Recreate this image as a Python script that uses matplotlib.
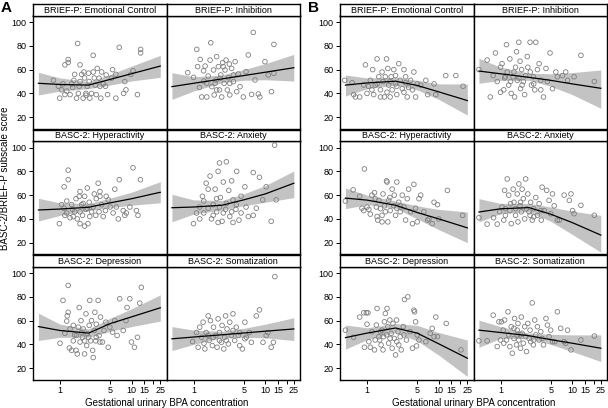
import matplotlib
matplotlib.use("Agg")
import matplotlib.pyplot as plt

plt.rcParams['font.family'] = ['Liberation Sans Narrow', 'Liberation Sans', 'DejaVu Sans']

# -------------------------------
# Data
# -------------------------------
titles = ['BRIEF-P: Emotional Control', 'BRIEF-P: Inhibition',
          'BASC-2: Hyperactivity', 'BASC-2: Anxiety',
          'BASC-2: Depression', 'BASC-2: Somatization']
xtick_vals = [1, 5, 10, 15, 20, 25]
xtick_labels = ['1', '5', '10', '15', '', '25']
ytick_vals = [20, 40, 60, 80, 100]

# fitted curve knots (BPA concentration)
curve_x = [0.5, 1, 2.5, 5, 10, 25]

# ---- panel A ----
a_ec_fit = [48.5, 47.5, 47, 51.8, 56.6, 63]
a_ec_lo = [38.7, 42, 44, 47, 50.5, 53.5]
a_ec_hi = [57.7, 53, 50, 56, 63, 72]
a_ec_x = [1.76, 2.9, 6.7, 13.3, 13.3, 12, 10.4, 9.7, 8, 8.3, 7.7, 6, 5.4, 6, 5.2, 4.4, 4.3, 3.7, 3.5, 3.6,
          3.3, 2.9, 3.1, 2.75, 2.6, 2.4, 2.2, 2.15, 1.9, 1.85, 1.8, 1.7, 1.56, 1.5, 1.38, 1.3, 1.3, 1.17, 1.1, 1.05,
          0.99, 0.95, 0.81, 1.17, 2.1, 2.3, 2.0, 2.55, 3.2, 4, 4.6, 1.9, 1.6, 1.45, 1.24, 2.3, 3, 3.8, 2.5]
a_ec_y = [82, 72, 78.7, 77, 74, 39, 59, 56, 50, 43, 40, 36, 60, 56, 52.8, 55.5, 46, 36, 52.8, 46,
          61, 58, 47, 40, 36, 46, 53, 58, 64, 46, 40, 36, 51, 45, 39, 66, 68.5, 64, 48, 43,
          36, 46, 51, 39, 36, 38.5, 56, 50, 39, 48, 39, 50, 56, 48, 42, 40, 53, 58, 57]

a_inh_fit = [45.7, 48.5, 52.2, 55, 57.8, 61.6]
a_inh_lo = [35, 42, 49, 51, 51.5, 50.4]
a_inh_hi = [57.4, 54, 55.5, 60, 65, 72.8]
a_inh_x = [0.83, 1, 1.11, 1.14, 1.21, 1.24, 1.3, 1.38, 1.4, 1.45, 1.53, 1.6, 1.7, 1.74, 1.8, 1.9, 1.94, 2.06, 2.1, 2.22,
           2.3, 2.4, 2.47, 2.55, 2.67, 2.75, 2.84, 2.96, 3.06, 3.16, 3.2, 3.4, 3.6, 3.8, 4, 4.2, 4.45, 4.95, 5.4, 5.8,
           6.45, 6.8, 7.2, 8, 8.4, 9.9, 11, 13.2, 13.2, 12.2, 2.0, 2.35, 3.2, 1.53, 3.6, 2.1, 2.6]
a_inh_y = [57.4, 53.5, 77, 62.5, 45, 68.6, 37, 59, 50.4, 63, 37, 54.6, 68, 82.6, 45.7, 59.7, 38.7, 51.3, 70.9, 62.5,
           42.9, 55.5, 37, 65.8, 48.5, 59.7, 68, 42.9, 53.2, 64.7, 38.7, 61, 49.9, 66.7, 41.5, 56.3, 45.7, 37, 58.3, 72.3,
           39.2, 91.3, 51.3, 39.5, 37, 66.7, 55.5, 81.2, 56.9, 41.5, 48.5, 52.7, 48.5, 48.5, 55.5, 42.9, 62.5]

a_hyp_fit = [47.5, 48.3, 49.8, 53.5, 57, 62.4]
a_hyp_lo = [38.2, 43, 47, 49.5, 51.5, 53.6]
a_hyp_hi = [57.3, 53.5, 53, 57.5, 62.5, 71.3]
a_hyp_x = [0.98, 1.3, 1.14, 1.3, 1.14, 1.24, 1.38, 1.45, 1.6, 1.74, 1.85, 1.9, 2, 2.06, 2.2, 2.3, 2.4, 2.55, 2.6, 2.9,
           3, 3.2, 3.4, 3.5, 3.6, 3.8, 4, 4.3, 4.7, 5.5, 5.8, 6.1, 6.5, 6.7, 7.6, 8.4, 9.4, 10.4, 11.6, 12.2,
           13.2, 8, 5, 2.2, 1.67, 1.5, 1.24, 1.05, 1.17, 1.53, 1.9, 2.1, 2.4, 2.75, 2.45, 3.15, 1.9, 3.6, 4.4]
a_hyp_y = [36, 81, 67, 73, 49, 45, 41, 52, 46, 40, 59, 63, 52, 43, 34, 48, 66, 54, 42, 50,
           61, 57, 70, 46, 63, 52, 42, 47, 56, 45, 65, 50, 40, 73, 47, 45, 50, 83, 47, 43,
           73, 43, 50, 59, 57, 48, 55, 52, 43, 42, 46, 53, 49, 46, 36, 43, 36, 59, 59]

a_anx_fit = [49.4, 50, 51.5, 56, 61, 70]
a_anx_lo = [37.6, 44, 47.5, 51, 54, 57.9]
a_anx_hi = [60.7, 56, 55.5, 61, 68, 80.3]
a_anx_x = [1, 1.22, 1.33, 1.39, 1.5, 1.6, 1.7, 1.78, 1.88, 2.0, 2.1, 2.2, 2.3, 2.37, 2.5, 2.6, 2.8, 2.87, 3.1, 3.2,
           3.4, 3.55, 3.9, 4.0, 4.3, 4.6, 5.2, 5.8, 6.8, 7.5, 8.3, 9.2, 10.3, 12.1, 13.5, 14.2, 1.39, 1.6, 1.88, 2.1,
           2.3, 2.6, 2.87, 3.4, 3.95, 4.6, 5.4, 6.8, 3.55, 2.2, 1.22, 1.1]
a_anx_y = [36, 50, 59, 45, 70, 65, 76, 40, 52, 65, 46, 80, 87, 58, 38, 71, 48, 88, 64, 42,
           72, 56, 48, 80, 39, 59, 67, 42, 79, 49, 75, 56, 67, 38, 102, 56, 55, 49, 43, 57,
           50, 45, 53, 46, 52, 45, 50, 43, 37, 37, 40, 45]

a_dep_fit = [55, 51.7, 49.5, 57.5, 63.2, 70.8]
a_dep_lo = [43.3, 46, 46, 51, 55, 59.6]
a_dep_hi = [66.3, 57, 53, 62, 70, 81.7]
a_dep_x = [1, 1.1, 1.17, 1.24, 1.26, 1.3, 1.35, 1.38, 1.3, 1.45, 1.53, 1.6, 1.67, 1.74, 1.8, 1.85, 1.9, 1.96, 2.06, 2.1,
           2.2, 2.3, 2.35, 2.4, 2.55, 2.6, 2.67, 2.75, 2.85, 2.9, 3, 3.06, 3.15, 3.2, 3.4, 3.5, 3.66, 3.9, 4.1, 4.35,
           4.7, 4.95, 5.4, 5.8, 6.25, 6.8, 7.6, 8.3, 8.6, 9.4, 9.9, 10.9, 12, 12.9, 13.6, 1.53, 2, 2.5, 1.7, 3.6,
           2.2, 3.2]
a_dep_y = [41, 77, 49.4, 59.6, 64, 67, 37, 53, 89.6, 35, 43, 48, 35, 32, 54.5, 71, 42, 60, 46, 53,
           32, 65.7, 39, 49, 56, 77, 43, 60, 35, 29, 51.7, 67, 43, 57, 77, 47.5, 63, 42, 51.7, 58.7,
           37.6, 54.5, 50.3, 60, 47.5, 78.4, 51.7, 60, 71, 78.4, 42, 37.6, 46, 74.7, 88, 56, 50, 46, 47.5, 42,
           43, 46]

a_som_fit = [44.7, 46.2, 48.1, 49.6, 51.1, 53]
a_som_lo = [34.8, 40, 45.5, 46, 45.5, 43.3]
a_som_hi = [55, 52, 51, 53.5, 57, 62.4]
a_som_x = [0.97, 1.1, 1.16, 1.22, 1.29, 1.36, 1.44, 1.5, 1.6, 1.65, 1.72, 1.83, 1.9, 2.04, 2.13, 2.2, 2.3, 2.45, 2.5, 2.64,
           2.72, 2.8, 2.93, 3.06, 3.2, 3.37, 3.55, 3.75, 3.95, 4.2, 4.4, 4.8, 5.2, 5.45, 6, 6.4, 7.5, 8.3, 9.3, 10.3,
           10.9, 12.1, 13, 13.6, 1.88, 2.3, 3.55, 1.6, 1.4, 5.2, 2.87, 4.4]
a_som_y = [42.4, 50, 37.6, 54.5, 46, 58.7, 36.2, 50, 64, 43.3, 60, 39, 54.5, 47.5, 37.6, 61.5, 50, 41.8, 56, 36.2,
           46, 64, 53, 40.4, 58.7, 47.5, 65.7, 43.3, 54.5, 47.5, 39, 36.2, 58.7, 46, 50, 41.8, 64, 69, 41.8, 47.5,
           50, 37.6, 41.8, 97, 46, 43.3, 51.7, 47.5, 41, 44.7, 43.3, 50]

# ---- panel B ----
b_ec_fit = [47, 48.8, 50.3, 46.7, 41.3, 34]
b_ec_lo = [37.8, 44, 47, 43, 35, 21.8]
b_ec_hi = [55.5, 53, 53.5, 51, 48, 47.9]
b_ec_x = [0.49, 0.62, 0.65, 0.69, 0.79, 0.95, 0.9, 1, 1.11, 1.17, 1.24, 1.3, 1.38, 1.46, 1.54, 1.62, 1.67, 1.75, 1.87, 1.95,
          2, 2.1, 2.17, 2.24, 2.36, 2.5, 2.6, 2.77, 2.9, 3.1, 3.27, 3.45, 3.64, 3.8, 4.05, 4.5, 4.75, 5.0, 6.6, 7,
          8.6, 9.1, 12.5, 17.3, 21.8, 1.54, 1.38, 1.8, 2.1, 2.6, 1.9, 3.27, 4.3, 5.6, 2.5, 3.45, 1.05, 1.2]
b_ec_y = [51, 49, 39, 37, 37, 64, 47, 40, 51, 43, 39, 47, 69, 54, 43, 58, 50, 37, 69, 61,
          47, 37, 54, 43, 60, 48, 39, 65, 51, 44, 60, 54, 37, 45, 51, 58, 37, 48, 51, 39,
          48, 39, 55, 55, 46, 37, 48, 54, 50, 46, 41, 41, 43, 47, 55, 49, 46, 60]

b_inh_fit = [58.8, 56.5, 53.5, 51, 48, 44.3]
b_inh_lo = [48.5, 51, 51, 46, 39, 27.5]
b_inh_hi = [69.5, 62, 57, 56.5, 57.5, 59.7]
b_inh_x = [0.5, 0.65, 0.72, 0.79, 0.85, 0.9, 1, 1, 1.05, 1.11, 1.14, 1.21, 1.24, 1.3, 1.35, 1.41, 1.5, 1.57, 1.62, 1.67,
           1.71, 1.8, 1.87, 1.9, 1.97, 2.08, 2.17, 2.24, 2.36, 2.4, 2.58, 2.7, 2.87, 3, 3.1, 3.27, 3.45, 3.64, 3.97, 4.3,
           4.5, 4.9, 5.3, 5.9, 6.2, 7.3, 8.1, 8.6, 10.6, 13.2, 20.3, 1.54, 1.8, 2, 2.6, 1.38, 1.17, 2.9, 3.64]
b_inh_y = [60, 68, 37, 55, 74, 50, 41, 62, 65, 43, 53, 81, 58, 47, 69, 40, 54, 37, 62, 75,
           51, 83, 67, 44, 60, 50, 39, 55, 71, 62, 83, 47, 54, 43, 83, 60, 65, 51, 37, 61,
           50, 74, 44, 58, 54, 55, 58, 51, 54, 72, 50, 58, 53, 47, 58, 50, 54, 48, 43]

b_hyp_fit = [57.5, 55.8, 51.5, 45.4, 40, 32.5]
b_hyp_lo = [48.6, 52, 49, 40, 31, 20]
b_hyp_hi = [66, 60, 55, 51, 48, 45.8]
b_hyp_x = [0.5, 0.64, 0.79, 0.85, 0.9, 0.92, 1, 1.06, 1.11, 1.17, 1.27, 1.35, 1.38, 1.46, 1.54, 1.62, 1.67, 1.75, 1.87, 1.9,
           1.95, 2, 2.1, 2.24, 2.36, 2.4, 2.5, 2.6, 2.77, 2.9, 3.1, 3.27, 3.45, 3.64, 3.8, 4.05, 4.3, 4.5, 4.75, 5,
           5.3, 5.6, 6.2, 7, 7.3, 8.1, 8.6, 9.6, 10, 13.2, 21.5, 1.3, 1.8, 2.08, 2.6, 1.62, 1.41, 2.9]
b_hyp_y = [55, 64.4, 59, 49, 47, 82, 50, 48, 44, 60, 62, 50, 42, 55.6, 48.6, 37.5, 61, 51, 72, 71,
           37.5, 55.6, 47, 65, 51, 60, 43, 71, 54, 46, 60, 50, 39, 57, 65, 46, 36, 69, 49, 37.5,
           57, 60, 46, 39, 40, 36, 54, 52, 40, 64, 43, 57, 46, 58, 49, 43, 39, 51]

b_anx_fit = [45.8, 48.5, 49.5, 44, 36.9, 26.4]
b_anx_lo = [37.5, 44.5, 46, 38, 27, 12]
b_anx_hi = [57, 53, 53, 50, 46.5, 43]
b_anx_x = [0.5, 0.65, 0.8, 0.9, 0.97, 1.05, 1.11, 1.14, 1.17, 1.24, 1.3, 1.35, 1.41, 1.5, 1.54, 1.62, 1.71, 1.75, 1.8, 1.87,
           1.95, 2, 2.08, 2.17, 2.24, 2.3, 2.4, 2.58, 2.63, 2.77, 2.9, 3.1, 3.27, 3.45, 3.7, 3.8, 4.05, 4.4, 4.75, 5,
           5.3, 5.6, 6.2, 6.6, 7.7, 9.1, 9.6, 10.1, 10.6, 13.2, 20.3, 1.62, 1.9, 2.5, 2.9, 3.64, 1.38, 1.17]
b_anx_y = [41, 35.6, 41, 35.6, 46, 50, 39, 64, 43, 73.6, 60, 47, 36, 65, 54, 43, 61, 37.5, 69.4, 51,
           46, 65, 57, 40, 73.6, 48.6, 61, 43, 54, 39, 48.6, 58, 43, 52.8, 39, 66.7, 47, 64, 55.6, 44.4,
           61, 51, 39, 39, 60, 55.6, 61, 47, 44.4, 51.4, 43, 48.6, 54, 46, 41.7, 47, 52.8, 48.6]

b_dep_fit = [45.7, 49.5, 53.8, 49.5, 40.5, 28.4]
b_dep_lo = [36, 44, 50, 43, 31, 13]
b_dep_hi = [56.3, 54, 57.5, 56, 50, 43.7]
b_dep_x = [0.5, 0.65, 0.79, 0.9, 0.92, 0.98, 1, 1.03, 1.06, 1.11, 1.17, 1.27, 1.35, 1.38, 1.46, 1.5, 1.57, 1.62, 1.67, 1.75,
           1.8, 1.87, 1.9, 1.95, 2, 2.08, 2.17, 2.24, 2.3, 2.4, 2.5, 2.58, 2.7, 2.77, 2.9, 3, 3.2, 3.33, 3.55, 3.7,
           3.97, 4.3, 4.5, 4.6, 4.75, 4.9, 5, 5.3, 6.6, 7.6, 8.1, 8.6, 9.1, 9.6, 12.7, 20.4, 1.54, 2.1, 2.6, 1.7,
           3.27, 1.3]
b_dep_y = [52, 46, 63, 66.6, 37.6, 66.6, 57, 66.6, 42.3, 37.6, 50.7, 35.4, 56.3, 70.2, 46.5, 43.7, 39.6, 52, 35.4, 59,
           66, 48, 70.2, 54.9, 41, 60.5, 49.3, 36.8, 57.6, 45, 31.2, 60.5, 50.7, 39.6, 46.5, 35.4, 54.9, 77.7, 43.7, 80,
           50.7, 36.8, 68.8, 67.4, 59, 38.7, 48, 43.7, 42.3, 49.3, 53.5, 46.5, 63, 46.5, 57.6, 35.4, 50.7, 45, 42.3, 46.5,
           48, 43.7]

b_som_fit = [52, 50, 47.3, 44, 41, 36.8]
b_som_lo = [37.6, 45, 45, 40, 34, 25.6]
b_som_hi = [60.4, 55, 49.5, 48.5, 48, 48]
b_som_x = [0.5, 0.65, 0.79, 0.9, 0.95, 1, 1.03, 1.09, 1.11, 1.14, 1.21, 1.27, 1.3, 1.35, 1.41, 1.46, 1.54, 1.57, 1.67, 1.71,
           1.75, 1.8, 1.9, 1.95, 2, 2.08, 2.17, 2.24, 2.3, 2.4, 2.58, 2.63, 2.77, 2.87, 3, 3.1, 3.27, 3.45, 3.64, 3.97,
           4.3, 4.5, 4.75, 5, 5.3, 5.7, 6.2, 6.9, 7.7, 8.1, 8.6, 9.6, 13.2, 20.3, 1.71, 2.9, 3.8, 1.54, 2.5, 1.9]
b_som_y = [43, 43, 64.6, 38.2, 59, 43.7, 59, 52, 41, 60.5, 43.7, 67.4, 48, 38.2, 54.9, 32.6, 45, 61.8, 39.6, 52,
           57.6, 43.7, 36.8, 63, 49.3, 41, 54.9, 46.5, 34, 57.6, 52, 42.3, 74.9, 39.6, 60.5, 48, 54.9, 43.7, 50.7, 39.6,
           61.8, 56.3, 46.5, 52, 42.3, 42.3, 67.4, 53.5, 42.3, 41, 52, 35.4, 43.7, 47, 48, 43.7, 45, 53.5, 45, 48]

panel_a = [(a_ec_x, a_ec_y, a_ec_fit, a_ec_lo, a_ec_hi),
           (a_inh_x, a_inh_y, a_inh_fit, a_inh_lo, a_inh_hi),
           (a_hyp_x, a_hyp_y, a_hyp_fit, a_hyp_lo, a_hyp_hi),
           (a_anx_x, a_anx_y, a_anx_fit, a_anx_lo, a_anx_hi),
           (a_dep_x, a_dep_y, a_dep_fit, a_dep_lo, a_dep_hi),
           (a_som_x, a_som_y, a_som_fit, a_som_lo, a_som_hi)]
panel_b = [(b_ec_x, b_ec_y, b_ec_fit, b_ec_lo, b_ec_hi),
           (b_inh_x, b_inh_y, b_inh_fit, b_inh_lo, b_inh_hi),
           (b_hyp_x, b_hyp_y, b_hyp_fit, b_hyp_lo, b_hyp_hi),
           (b_anx_x, b_anx_y, b_anx_fit, b_anx_lo, b_anx_hi),
           (b_dep_x, b_dep_y, b_dep_fit, b_dep_lo, b_dep_hi),
           (b_som_x, b_som_y, b_som_fit, b_som_lo, b_som_hi)]

# -------------------------------
# Layout (pixels)
# -------------------------------
W, H = 608, 408
fig = plt.figure(figsize=(W / 100, H / 100), dpi=100)

def rect(left, top, w, h):
    return [left / W, 1 - (top + h) / H, w / W, h / H]

col_w = 133.5
plot_h = 113
strip_h = 11.5
row_tops = [15.5, 141, 266.5]
panel_lefts = {'A': 33, 'B': 340}
tick_fs = 6.5

for key, data in (('A', panel_a), ('B', panel_b)):
    left0 = panel_lefts[key]
    for i, (sx, sy, fit, lo, hi) in enumerate(data):
        r, c = divmod(i, 2)
        left = left0 + c * col_w
        top = row_tops[r]

        ax = fig.add_axes(rect(left, top, col_w, plot_h))
        ax.fill_between(curve_x, lo, hi, color='#c3c3c3', lw=0, zorder=1)
        ax.scatter(sx, sy, s=11, facecolors='none', edgecolors='#7f7f7f', linewidths=0.6, zorder=2)
        ax.plot(curve_x, fit, color='black', lw=0.9, zorder=3)
        ax.set_xscale('log')
        ax.set_xlim(0.42, 30.5)
        ax.set_ylim(10.5, 105.5)
        ax.minorticks_off()
        for sp in ax.spines.values():
            sp.set_linewidth(1.0)
        ax.tick_params(direction='out', length=3, width=0.7, labelsize=tick_fs, pad=1.5)
        if c == 0:
            ax.set_yticks(ytick_vals)
        else:
            ax.set_yticks([])
        if r == 2:
            ax.set_xticks(xtick_vals)
            ax.set_xticklabels(xtick_labels)
        else:
            ax.set_xticks([])
        ax.xaxis.set_minor_locator(matplotlib.ticker.NullLocator())

        st = fig.add_axes(rect(left, top - strip_h, col_w, strip_h))
        st.set_xticks([])
        st.set_yticks([])
        for sp in st.spines.values():
            sp.set_linewidth(1.0)
        st.text(0.5, 0.45, titles[i], ha='center', va='center', fontsize=6.5, transform=st.transAxes)

    fig.text((left0 + col_w) / W, 1 - 403 / H, 'Gestational urinary BPA concentration',
             ha='center', va='center', fontsize=7)
    fig.text((left0 - 32) / W, 1 - 8 / H, key, ha='left', va='center', fontsize=11, fontweight='bold',
             family=['Liberation Sans', 'DejaVu Sans'])

fig.text(5 / W, 1 - 178 / H, 'BASC-2/BRIEF-P subscale score', rotation=90,
         ha='center', va='center', fontsize=7)

fig.savefig('out.png', dpi=100)
